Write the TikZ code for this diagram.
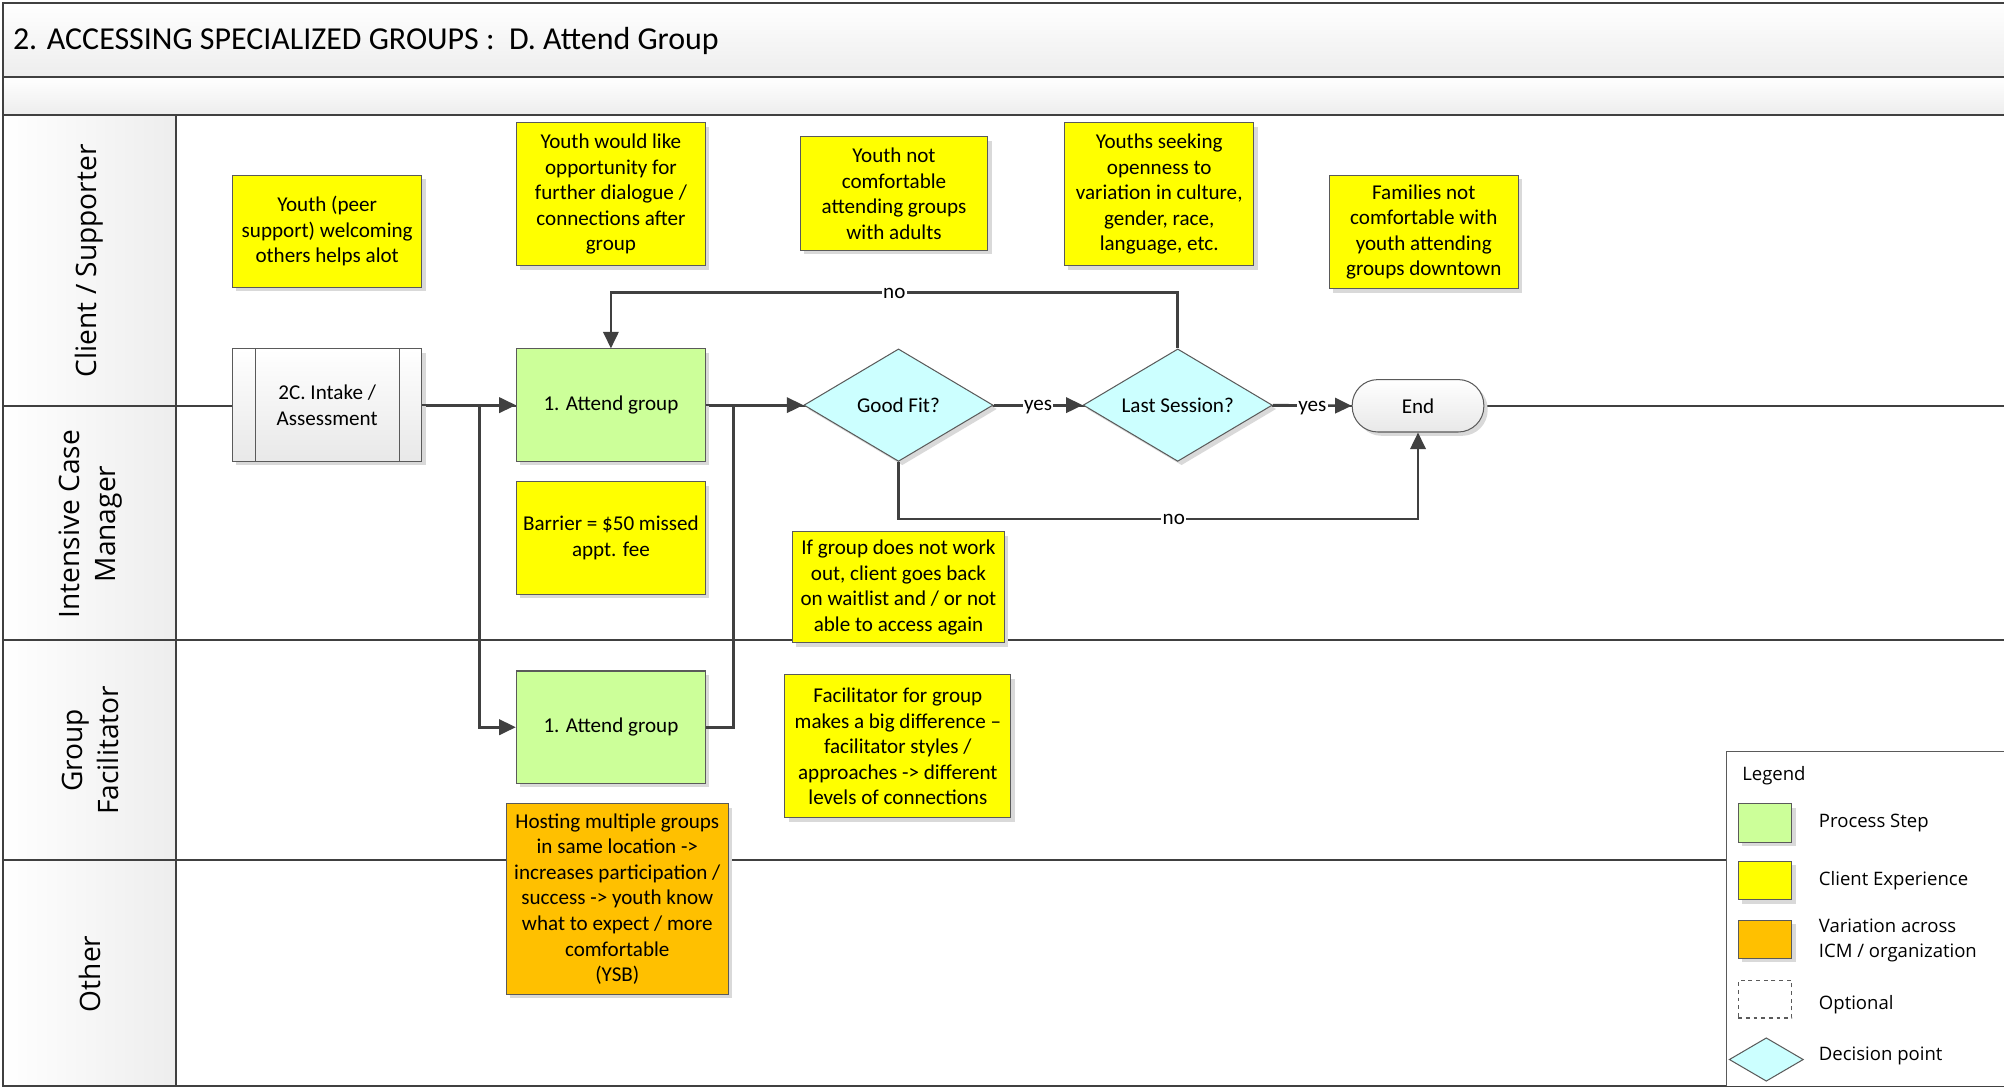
\documentclass[tikz,border=0pt]{standalone}
\usepackage{fontspec}
\setmainfont{Carlito}
\newfontfamily\lanefamily{Open Sans}
\usetikzlibrary{shapes.geometric,arrows.meta,shadows}
\definecolor{ln}{HTML}{404040}
\definecolor{bd}{HTML}{5A5A5A}
\definecolor{procgreen}{HTML}{CCFF99}
\definecolor{expyellow}{HTML}{FFFF00}
\definecolor{varorange}{HTML}{FFC000}
\definecolor{deccyan}{HTML}{CCFFFF}
\newcommand\bxfont{\fontsize{16.5}{20}\selectfont}
\newcommand\lnfont{\lanefamily\fontsize{22}{28}\selectfont}
\newcommand\lgfont{\lanefamily\fontsize{14.5}{19.5}\selectfont}
\tikzset{
  shad/.style={drop shadow={shadow xshift=3pt,shadow yshift=-3pt,fill=black!15,opacity=1}},
  bx/.style={draw=bd, line width=0.8pt, align=center, inner sep=2pt, font=\bxfont, shad,
             minimum width=148pt, minimum height=88pt},
  exper/.style={bx, fill=expyellow},
  proc/.style={bx, fill=procgreen},
  varbox/.style={bx, fill=varorange},
  decision/.style={diamond, draw=bd, line width=0.8pt, fill=deccyan, font=\bxfont, inner sep=0pt,
             aspect=1.68, minimum width=148pt, minimum height=88pt, shad},
  frameline/.style={draw=ln, line width=1.6pt},
  conn/.style={draw=ln, line width=2pt},
  arr/.style={-{Triangle[length=13pt,width=12pt]}},
  lbl/.style={fill=white, inner sep=1pt, text height=1ex, text depth=0pt, yshift=-2pt, font=\bxfont},
  lanelbl/.style={rotate=90, align=center, font=\lnfont},
  swatch/.style={draw=bd, line width=0.8pt, minimum width=42pt, minimum height=30pt, inner sep=0pt,
             drop shadow={shadow xshift=3pt,shadow yshift=-3pt,fill=black!15,opacity=1}},
  legtxt/.style={anchor=west, align=left, font=\lgfont, inner sep=0pt},
}
\begin{document}
\begin{tikzpicture}[x=1pt,y=-1pt]
\useasboundingbox (0,0) rectangle (1568,851);
\clip (0,0) rectangle (1568,851);
\fill[white] (0,0) rectangle (1568,851);
% bands
\path[top color=white, bottom color=black!7] (2,2) rectangle (1600,60);
\path[top color=white, bottom color=black!7] (2,60) rectangle (1600,90);
\path[left color=white, right color=black!7] (2,90) rectangle (138,850);
\draw[frameline] (1600,2) -- (2,2) -- (2,850) -- (1600,850);
\draw[frameline] (2,60) -- (1600,60);
\draw[frameline] (2,90) -- (1600,90);
\draw[frameline] (138,90) -- (138,850);
\draw[frameline] (2,318) -- (1600,318);
\draw[frameline] (2,501) -- (1600,501);
\draw[frameline] (2,673) -- (1351,673);
% title
\node[anchor=base west, inner sep=0pt, font=\fontsize{25}{30}\selectfont] (title) at (10,39)
  {2. ACCESSING SPECIALIZED GROUPS :\ \ D. Attend Group};
% lane labels
\node[lanelbl] (lane1) at (70,204) {Client / Supporter};
\node[lanelbl] (lane2) at (71,410) {Intensive Case\\Manager};
\node[lanelbl] (lane3) at (71,587) {Group\\Facilitator};
\node[lanelbl] (lane4) at (70,762) {Other};
% legend box
\draw[draw=bd, line width=1pt, fill=white] (1351,850) -- (1351,588) -- (1600,588) -- (1600,850);
\node[legtxt] (legtitle) at (1363,607) {Legend};
\node[swatch, fill=procgreen] (lg1) at (1381,644) {};
\node[swatch, fill=expyellow] (lg2) at (1381,689) {};
\node[swatch, fill=varorange] (lg3) at (1381,735) {};
\node[draw=bd, dashed, line width=0.8pt, minimum width=42pt, minimum height=29pt] (lg4) at (1381,782) {};
\node[diamond, draw=bd, line width=0.8pt, fill=deccyan, inner sep=0pt, aspect=1.7,
      minimum width=58pt, minimum height=34pt] (lg5) at (1382,829) {};
\node[legtxt] (lt1) at (1423,644) {Process Step};
\node[legtxt] (lt2) at (1423,689) {Client Experience};
\node[legtxt] (lt3) at (1423,736) {Variation across\\ICM / organization};
\node[legtxt] (lt4) at (1423,786) {Optional};
\node[legtxt] (lt5) at (1423,826) {Decision point};
% client experience boxes
\node[exper] (y1) at (256,181) {Youth (peer\\support) welcoming\\others helps alot};
\node[exper, minimum height=112pt] (y2) at (478,152) {Youth would like\\opportunity for\\further dialogue /\\connections after\\group};
\node[exper, minimum width=147pt, minimum height=89pt] (y3) at (699.5,151.5) {Youth not\\comfortable\\attending groups\\with adults};
\node[exper, minimum height=112pt] (y4) at (907,152) {Youths seeking\\openness to\\variation in culture,\\gender, race,\\language, etc.};
\node[exper, minimum height=89pt] (y5) at (1114,181.5) {Families not\\comfortable with\\youth attending\\groups downtown};
% process
\node[bx, top color=white, bottom color=black!9] (intake) at (256,317) {2C. Intake /\\Assessment};
\draw[draw=bd, line width=0.8pt] ([xshift=18pt]intake.north west) -- ([xshift=18pt]intake.south west);
\draw[draw=bd, line width=0.8pt] ([xshift=-18pt]intake.north east) -- ([xshift=-18pt]intake.south east);
\node[proc] (g1) at (478,317) {1. Attend group};
\node[exper] (barrier) at (478,421) {Barrier = \$50 missed\\appt. fee};
\node[decision] (gf) at (703,317) {Good Fit?};
\node[decision] (ls) at (921.5,317) {Last Session?};
\node[draw=bd, line width=0.8pt, rounded corners=20pt, minimum width=103pt, minimum height=41pt,
      top color=white, bottom color=black!9, font=\bxfont, shad] (endn) at (1109.5,317.5) {End};
\node[exper, minimum width=166pt, minimum height=87pt] (ifg) at (703,459.5) {If group does not work\\out, client goes back\\on waitlist and / or not\\able to access again};
\node[proc] (g2) at (478,569) {1. Attend group};
\node[exper, minimum width=177pt, minimum height=112pt] (facil) at (702.5,584) {Facilitator for group\\makes a big difference --\\facilitator styles /\\approaches -\/> different\\levels of connections};
\node[varbox, minimum width=174pt, minimum height=149pt] (host) at (483,703.5) {Hosting multiple groups\\in same location -\/>\\increases participation /\\success -\/> youth know\\what to expect / more\\comfortable\\(YSB)};
% connectors
\coordinate (j1) at (375,317);
\coordinate (j2) at (574,317);
\coordinate (n1) at (921.5,229);
\coordinate (n2) at (478,229);
\coordinate (m1) at (703,406);
\coordinate (m2) at (1109.5,406);
\draw[conn, arr] (intake.east) -- (g1.west);
\draw[conn, arr] (j1) |- (g2.west);
\draw[conn, arr] (g1.east) -- (gf.west);
\draw[conn] (g2.east) -| (j2);
\draw[conn, arr] (gf.east) -- node[lbl] {yes} (ls.west);
\draw[conn, arr] (ls.east) -- node[lbl] {yes} (endn.west);
\draw[conn, arr] (ls.north) -- (n1) -- node[lbl] {no} (n2) -- (g1.north);
\draw[conn, arr] (gf.south) -- (m1) -- node[lbl, pos=0.53] {no} (m2) -- (endn.south);
\end{tikzpicture}
\end{document}
